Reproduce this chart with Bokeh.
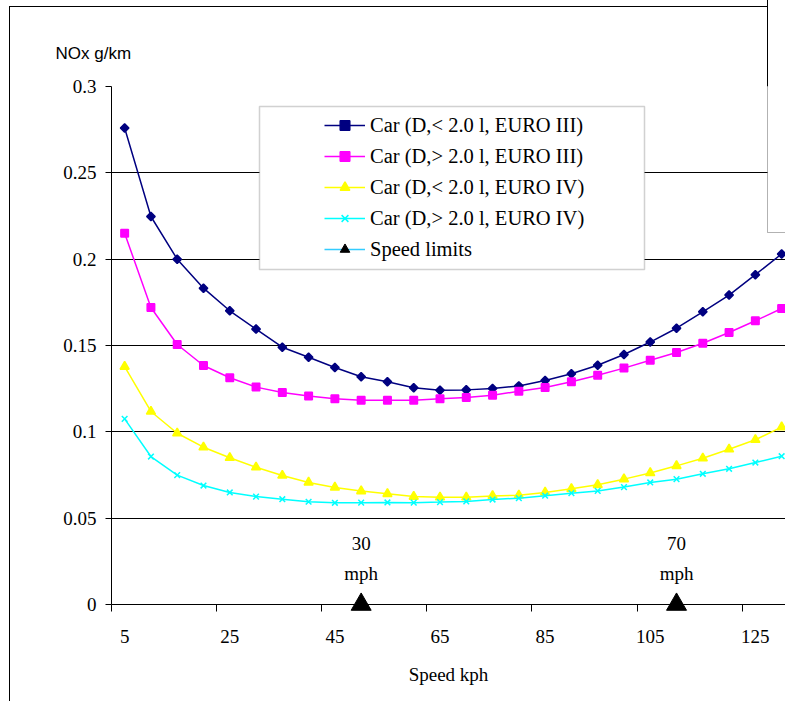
import numpy as np
from bokeh.plotting import figure
from bokeh.models import FixedTicker, Legend, LegendItem, BoxAnnotation, Range1d
from bokeh.core.properties import value
from bokeh.embed import file_html
from bokeh.resources import INLINE

# ---------------- data ----------------
speeds = [5, 10, 15, 20, 25, 30, 35, 40, 45, 50, 55, 60, 65, 70, 75, 80, 85, 90,
          95, 100, 105, 110, 115, 120, 125, 130]

car_d_lt2_euro3 = [0.276, 0.2247, 0.2000, 0.1832, 0.1701, 0.1595, 0.1490, 0.1432, 0.1373,
                   0.1319, 0.1290, 0.1255, 0.1241, 0.1243, 0.1251, 0.1266, 0.1297, 0.1336,
                   0.1386, 0.1448, 0.1520, 0.1600, 0.1695, 0.1792, 0.1910, 0.2030]
car_d_gt2_euro3 = [0.215, 0.172, 0.1506, 0.1384, 0.1313, 0.1259, 0.1228, 0.1207, 0.1192,
                   0.1183, 0.1183, 0.1183, 0.1191, 0.1199, 0.1212, 0.1235, 0.1257, 0.1290,
                   0.1328, 0.1369, 0.1415, 0.1459, 0.1513, 0.1575, 0.1643, 0.1714]
car_d_lt2_euro4 = [0.1378, 0.1118, 0.0992, 0.0911, 0.0850, 0.0795, 0.0747, 0.0707, 0.0678,
                   0.0657, 0.0641, 0.0625, 0.0621, 0.0621, 0.0629, 0.0633, 0.0649, 0.0670,
                   0.0693, 0.0726, 0.0762, 0.0803, 0.0847, 0.0899, 0.0954, 0.1027]
car_d_gt2_euro4 = [0.1075, 0.0857, 0.0749, 0.0689, 0.0649, 0.0625, 0.0610, 0.0595, 0.0589,
                   0.0590, 0.0591, 0.0590, 0.0593, 0.0597, 0.0608, 0.0616, 0.0630, 0.0645,
                   0.0658, 0.0680, 0.0707, 0.0726, 0.0757, 0.0786, 0.0822, 0.0859]

series_names = ["Car (D,< 2.0 l, EURO III)", "Car (D,> 2.0 l, EURO III)",
                "Car (D,< 2.0 l, EURO IV)", "Car (D,> 2.0 l, EURO IV)"]

limit_speeds = [50, 110]
limit_values = [0, 0]
limit_labels = ["30\nmph", "70\nmph"]
limit_name = "Speed limits"

y_ticks = [0, 0.05, 0.1, 0.15, 0.2, 0.25, 0.3]
y_tick_labels = ["0", "0.05", "0.1", "0.15", "0.2", "0.25", "0.3"]
x_tick_labels = ["5", "25", "45", "65", "85", "105", "125"]

y_title = "NOx g/km"
x_title = "Speed kph"

# ---------------- figure ----------------
SERIF = "Liberation Serif"
idx = np.arange(len(speeds))
label_idx = [speeds.index(int(s)) for s in x_tick_labels]
boundaries = [i - 0.5 for i in label_idx]

W, H = 785, 701
CAT_PX = 26.28
p = figure(width=W, height=H, output_backend="svg", toolbar_location=None,
           x_range=Range1d(-0.5, -0.5 + (W - 111) / CAT_PX), y_range=Range1d(0, 0.3),
           min_border_left=111, min_border_right=0, min_border_top=86, min_border_bottom=97)
p.outline_line_color = None
p.background_fill_color = "white"
p.border_fill_color = None
# outer chart-area border (left / top) and the edge of the overlapping box, drawn as page CSS
p.styles = {
    "background": ("linear-gradient(#000,#000) 9px 6px / 1px 700px no-repeat, "
                   "linear-gradient(#000,#000) 9px 6px / 758px 1px no-repeat, "
                   "linear-gradient(#000,#000) 767px 0px / 1px 90px no-repeat, white"),
}
p.xgrid.visible = False
p.ygrid.ticker = FixedTicker(ticks=y_ticks)
p.ygrid.grid_line_color = "black"
p.ygrid.grid_line_width = 1

# title used as the y-axis caption at the top left
p.title.text = y_title
p.title.align = "left"
p.title.offset = -56
p.title.standoff = 48
p.title.text_font = "Liberation Sans"
p.title.text_font_size = "17px"
p.title.text_font_style = "normal"
p.title.text_color = "black"

# y axis
ya = p.yaxis[0]
ya.ticker = FixedTicker(ticks=y_ticks)
ya.major_label_overrides = {t: l for t, l in zip(y_ticks, y_tick_labels)}
ya.axis_line_color = "black"
ya.major_tick_in = 0
ya.major_tick_out = 6
ya.minor_tick_line_color = None
ya.major_label_text_font = SERIF
ya.major_label_text_font_size = "19px"
ya.major_label_text_color = "black"
ya.major_label_standoff = 9

# x axis
xa = p.xaxis[0]
xa.ticker = FixedTicker(ticks=label_idx, minor_ticks=boundaries)
xa.major_label_overrides = {int(i): l for i, l in zip(label_idx, x_tick_labels)}
xa.axis_line_color = "black"
xa.major_tick_in = 0
xa.major_tick_out = 0
xa.minor_tick_in = 0
xa.minor_tick_out = 7
xa.minor_tick_line_color = "black"
xa.major_label_text_font = SERIF
xa.major_label_text_font_size = "19px"
xa.major_label_text_color = "black"
xa.major_label_standoff = 18
xa.axis_label = x_title
xa.axis_label_text_font = SERIF
xa.axis_label_text_font_style = "normal"
xa.axis_label_text_font_size = "19px"
xa.axis_label_text_color = "black"
xa.axis_label_standoff = 18

# series
styles = [
    dict(color="#000080", marker="square", size=6, angle=np.pi / 4),
    dict(color="#FF00FF", marker="square", size=7.5, angle=0),
    dict(color="#FFFF00", marker="triangle", size=9, angle=0),
    dict(color="#00FFFF", marker="x", size=8, angle=0),
]
items = []
for vals, name, st in zip([car_d_lt2_euro3, car_d_gt2_euro3, car_d_lt2_euro4, car_d_gt2_euro4],
                          series_names, styles):
    r_line = p.line(idx, vals, line_color=st["color"], line_width=1.5)
    r_pts = p.scatter(idx, vals, marker=st["marker"], size=st["size"], angle=st["angle"],
                      fill_color=st["color"], line_color=st["color"], line_width=1.5)
    items.append(LegendItem(label=name, renderers=[r_line, r_pts]))

# speed limits series (blank everywhere except at the two limits)
limit_idx = [speeds.index(s) for s in limit_speeds]
limit_series = np.full(len(speeds), np.nan)
limit_series[limit_idx] = limit_values
r_lim_line = p.line(idx, limit_series, line_color="#33CCFF", line_width=1.5)
r_lim_pts = p.scatter(idx, limit_series, marker="triangle", size=20,
                      fill_color="black", line_color="black", level="overlay")
items.append(LegendItem(label=limit_name, renderers=[r_lim_line, r_lim_pts]))

p.text(x=limit_idx, y=limit_values, text=limit_labels, text_align="center",
       text_baseline="bottom", y_offset=-20, text_font=value(SERIF),
       text_font_size="19px", text_line_height=1.45, text_color="black", level="overlay")

# legend box + legend
p.add_layout(BoxAnnotation(left=259, right=644, top=106, bottom=269,
                           left_units="canvas", right_units="canvas",
                           top_units="canvas", bottom_units="canvas",
                           fill_color="white", fill_alpha=1,
                           line_color="#666666", line_width=1.5))
legend = Legend(items=items, location=(213, 343), padding=0, spacing=7, margin=0,
                glyph_width=41, glyph_height=24, label_height=24, label_standoff=5,
                border_line_color=None, background_fill_alpha=0,
                label_text_font=SERIF, label_text_font_size="20.5px", label_text_color="black")
p.add_layout(legend)

# overlapping box at the upper right (part inside the plot area)
p.add_layout(BoxAnnotation(left=767, right=3000, top=-10, bottom=232,
                           left_units="canvas", right_units="canvas",
                           top_units="canvas", bottom_units="canvas",
                           fill_color="white", fill_alpha=1,
                           line_color="black", line_width=1, level="overlay"))

open("out.html", "w").write(file_html(p, INLINE))
